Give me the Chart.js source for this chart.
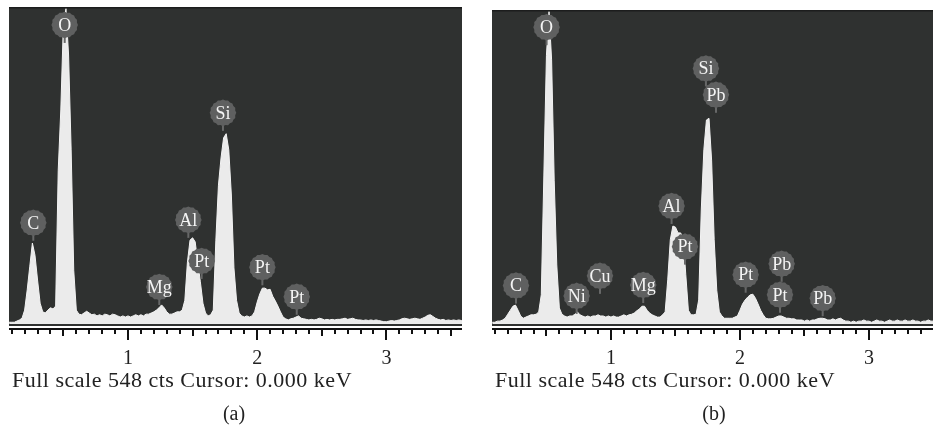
<!DOCTYPE html>
<html>
<head>
<meta charset="utf-8">
<script src="https://cdn.jsdelivr.net/npm/chart.js@4/dist/chart.umd.min.js"></script>
<style>
body{margin:0;background:#fff;width:933px;height:436px;overflow:hidden;position:relative;font-family:"Liberation Serif",serif;color:#222}
canvas{position:absolute;top:0}
.cap{position:absolute;font-size:22px;letter-spacing:0.5px;white-space:nowrap;line-height:1}
.sub{position:absolute;font-size:20px;line-height:1;transform:translateX(-50%)}
</style>
</head>
<body>
<canvas id="cA" width="470" height="436" style="left:0"></canvas>
<canvas id="cB" width="463" height="436" style="left:470px"></canvas>
<div class="cap" style="left:12px;top:369px">Full scale 548 cts Cursor: 0.000 keV</div>
<div class="cap" style="left:495px;top:369px">Full scale 548 cts Cursor: 0.000 keV</div>
<div class="sub" style="left:234px;top:403px">(a)</div>
<div class="sub" style="left:714px;top:403px">(b)</div>
<script>
// --------- data: counts every 0.02 keV from 0.08 keV ---------
const cntA=[3,3,3,5,7,10,24,59,100,140,119,76,36,21,19,24,28,26,31,266,370,520,545,465,301,93,24,17,
16,19,22,19,16,17,14,16,14,17,16,14,17,16,14,12,14,12,14,12,14,16,14,16,14,17,17,19,21,24,28,33,28,21,17,17,19,21,21,
24,41,107,145,149,142,107,73,36,19,14,16,24,145,240,287,322,329,301,223,97,41,19,14,12,14,12,14,21,
38,52,62,62,59,60,48,40,31,21,12,9,7,9,10,12,14,10,9,8,7,8,7,8,10,9,7,8,7,8,7,8,8,9,10,8,9,10,8,7,7,6,7,6,7,6,7,6,5,4,
4,5,6,5,6,7,9,10,9,8,9,10,9,8,10,12,15,16,13,10,8,7,8,6,7,6,7,6,7,6,6];
const cntB=[3,3,5,5,7,10,17,24,31,33,24,14,10,12,14,16,16,17,21,51,260,469,545,461,251,103,28,17,
14,12,14,14,17,21,16,14,12,14,12,14,14,16,14,14,12,14,12,14,12,12,14,16,14,16,17,19,23,26,31,31,24,19,16,14,12,12,16,
21,77,147,171,169,159,159,150,86,24,16,16,17,42,199,304,356,359,286,147,59,21,14,10,10,10,10,12,14,
24,35,42,47,51,52,45,35,24,16,10,9,9,10,12,14,14,12,10,10,9,9,7,7,7,5,7,5,7,7,9,10,10,9,7,7,9,7,9,10,7,5,5,3,5,3,5,5,7,5,
5,3,5,7,5,5,3,5,7,5,5,7,5,5,7,5,5,7,5,5,3,5,5,7,5,5,5,5,5,5,5];
const energy=cntA.map((_,i)=>+(0.08+i*0.02).toFixed(2));

// peak labels: element, keV, counts (centre of the marker)
const labA=['C','O','Mg','Al','Pt','Si','Pt','Pt'];
const labAe=[0.267,0.510,1.242,1.467,1.570,1.735,2.040,2.306];
const labAc=[175,517,64,180,109,365,98,47];
const labB=['O','Si','Pb','C','Ni','Cu','Mg','Al','Pt','Pt','Pb','Pt','Pb'];
const labBe=[0.501,1.736,1.814,0.264,0.734,0.915,1.25,1.470,1.574,2.044,2.323,2.310,2.641];
const labBc=[518,446,400,67,49,84,68,206,135,86,105,51,45];

const tickVals=[1,2,3];
const tickLabels=['1','2','3'];

// --------- decor plugin ---------
const decor={
  id:'decor',
  beforeDatasetsDraw(ch){
    const a=ch.chartArea,c=ch.ctx;
    c.save();
    c.fillStyle='#2f3130';c.fillRect(a.left,a.top,a.right-a.left,a.bottom-a.top+2);
    c.fillStyle='#1c1d1d';c.fillRect(a.left,a.top,a.right-a.left,1.5);
    c.restore();
  },
  afterDatasetsDraw(ch,args,o){
    const a=ch.chartArea,c=ch.ctx,xs=ch.scales.x,ys=ch.scales.y;
    c.save();
    // markers
    o.names.forEach((n,i)=>{
      const px=xs.getPixelForValue(o.ens[i]),py=ys.getPixelForValue(o.cts[i]);
      c.strokeStyle='#676868';c.lineWidth=2;
      c.beginPath();c.moveTo(px,py+10);c.lineTo(px,py+18);c.stroke();
      c.fillStyle='#5f6060';
      c.beginPath();
      for(let k=0;k<=32;k++){const t=k/32*Math.PI*2,r=k%2?12.5:13.3;
        const qx=px+r*Math.cos(t),qy=py+r*Math.sin(t);k?c.lineTo(qx,qy):c.moveTo(qx,qy);}
      c.fill();
      c.fillStyle='#f4f4f4';c.font='18px "Liberation Serif"';
      c.textAlign='center';c.textBaseline='middle';
      c.fillText(n,px,py+1);
    });
    // axis
    const y0=a.bottom+4;
    c.fillStyle='#111';c.fillRect(a.left,y0,a.right-a.left,2);
    for(let k=1;k<=36;k++){
      const v=k/10;if(v>xs.max)break;
      const px=Math.round(xs.getPixelForValue(v));
      const len=k%10===0?11:(k%5===0?7:5);
      c.fillRect(px-1,y0+1,2,len);
    }
    c.fillStyle='#222';c.font='20px "Liberation Serif"';c.textAlign='center';c.textBaseline='middle';
    tickVals.forEach((v,i)=>c.fillText(tickLabels[i],xs.getPixelForValue(v),359));
    c.restore();
  }
};

function makeChart(id,cnt,xmin,xmax,pad,names,ens,cts){
  return new Chart(document.getElementById(id),{
    type:'line',
    data:{datasets:[{data:energy.map((e,i)=>({x:e,y:cnt[i]})),
      borderColor:'#f3f3f3',borderWidth:1,backgroundColor:'#ebebeb',fill:'origin',
      pointRadius:0,tension:0}]},
    options:{responsive:false,animation:false,devicePixelRatio:1,
      layout:{padding:pad},
      plugins:{legend:{display:false},tooltip:{enabled:false},decor:{names,ens,cts}},
      scales:{x:{type:'linear',min:xmin,max:xmax,display:false},
              y:{min:0,max:548,display:false}}},
    plugins:[decor]
  });
}
makeChart('cA',cntA,0.079,3.585,{left:9,right:8,top:7,bottom:112},labA,labAe,labAc);
makeChart('cB',cntB,0.078,3.496,{left:22,right:0,top:10,bottom:112},labB,labBe,labBc);
</script>
</body>
</html>
